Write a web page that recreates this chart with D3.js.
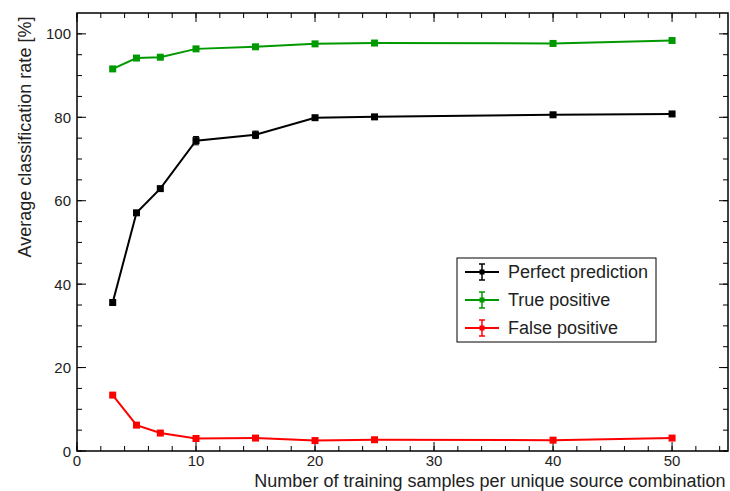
<!DOCTYPE html>
<html>
<head>
<meta charset="utf-8">
<script src="https://cdn.jsdelivr.net/npm/d3@7"></script>
<style>
  body { margin: 0; background: #fff; }
  text { font-family: "Liberation Sans", Arial, sans-serif; fill: #222; }
</style>
</head>
<body>
<div id="chart"></div>
<script>
// Training sample counts
const samples = [3, 5, 7, 10, 15, 20, 25, 40, 50];

// Average classification rates [%]
const perfect = [35.6, 57.1, 62.9, 74.4, 75.8, 79.9, 80.1, 80.6, 80.8];
const truePos = [91.6, 94.2, 94.4, 96.4, 96.9, 97.6, 97.8, 97.7, 98.4];
const falsePos = [13.4, 6.2, 4.3, 3.0, 3.1, 2.5, 2.7, 2.6, 3.1];

// Error bar half-widths
const perfectErr = [0.5, 0.5, 0.5, 1.0, 0.9, 0.4, 0.4, 0.4, 0.4];
const truePosErr = [0.3, 0.3, 0.3, 0.3, 0.3, 0.2, 0.2, 0.2, 0.2];
const falsePosErr = [0.3, 0.3, 0.3, 0.2, 0.2, 0.2, 0.2, 0.2, 0.2];

const seriesNames = ["Perfect prediction", "True positive", "False positive"];
const seriesColors = ["#000000", "#009900", "#ff0000"];

const xTicks = [0, 10, 20, 30, 40, 50];
const yTicks = [0, 20, 40, 60, 80, 100];

const width = 730;
const height = 491;
const margin = { top: 13, right: 1, bottom: 40, left: 77 };

const series = [
    { name: seriesNames[0], color: seriesColors[0], values: perfect, err: perfectErr },
    { name: seriesNames[1], color: seriesColors[1], values: truePos, err: truePosErr },
    { name: seriesNames[2], color: seriesColors[2], values: falsePos, err: falsePosErr }
];

const svg = d3.select("#chart")
    .append("svg")
    .attr("width", width)
    .attr("height", height);

const x = d3.scaleLinear().domain([0, 54.7]).range([margin.left, width - margin.right - 1]);
const y = d3.scaleLinear().domain([0, 105]).range([height - margin.bottom, margin.top]);

const x0 = x.range()[0], x1 = x.range()[1];
const y0 = y.range()[0], y1 = y.range()[1];

// ticks on all four sides, pointing inward
const xMinor = d3.range(0, 54.7, 2);
const yMinor = d3.range(0, 105, 5);

function tickGroup(vals, isX, len) {
    vals.forEach(v => {
        if (isX) {
            svg.append("line").attr("x1", x(v)).attr("x2", x(v)).attr("y1", y0).attr("y2", y0 - len)
                .attr("stroke", "#000").attr("stroke-width", 1);
            svg.append("line").attr("x1", x(v)).attr("x2", x(v)).attr("y1", y1).attr("y2", y1 + len)
                .attr("stroke", "#000").attr("stroke-width", 1);
        } else {
            svg.append("line").attr("y1", y(v)).attr("y2", y(v)).attr("x1", x0).attr("x2", x0 + len)
                .attr("stroke", "#000").attr("stroke-width", 1);
            svg.append("line").attr("y1", y(v)).attr("y2", y(v)).attr("x1", x1).attr("x2", x1 - len)
                .attr("stroke", "#000").attr("stroke-width", 1);
        }
    });
}
tickGroup(xMinor, true, 5);
tickGroup(xTicks, true, 9);
tickGroup(yMinor, false, 5);
tickGroup(yTicks, false, 9);

svg.append("rect")
    .attr("x", x0).attr("y", y1)
    .attr("width", x1 - x0).attr("height", y0 - y1)
    .attr("fill", "none").attr("stroke", "#000").attr("stroke-width", 1.5);

// tick labels
svg.selectAll(".xlab").data(xTicks).enter().append("text")
    .attr("x", d => x(d)).attr("y", y0 + 15)
    .attr("text-anchor", "middle").attr("font-size", "15px")
    .text(d => d);

svg.selectAll(".ylab").data(yTicks).enter().append("text")
    .attr("x", x0 - 6).attr("y", d => y(d) + 5.5)
    .attr("text-anchor", "end").attr("font-size", "15px")
    .text(d => d);

// axis titles
svg.append("text")
    .attr("x", 490).attr("y", 487)
    .attr("text-anchor", "middle").attr("font-size", "18px")
    .text("Number of training samples per unique source combination");

svg.append("text")
    .attr("transform", "translate(31,137) rotate(-90)")
    .attr("text-anchor", "middle").attr("font-size", "18px")
    .text("Average classification rate [%]");

const line = d3.line().x((d, i) => x(samples[i])).y(d => y(d));

series.forEach(s => {
    const g = svg.append("g");
    g.append("path")
        .attr("d", line(s.values))
        .attr("fill", "none").attr("stroke", s.color).attr("stroke-width", 2);
    s.values.forEach((v, i) => {
        const cx = x(samples[i]);
        g.append("line").attr("x1", cx).attr("x2", cx)
            .attr("y1", y(v - s.err[i])).attr("y2", y(v + s.err[i]))
            .attr("stroke", s.color).attr("stroke-width", 1.5);
        g.append("line").attr("x1", cx - 3).attr("x2", cx + 3)
            .attr("y1", y(v + s.err[i])).attr("y2", y(v + s.err[i]))
            .attr("stroke", s.color).attr("stroke-width", 1);
        g.append("line").attr("x1", cx - 3).attr("x2", cx + 3)
            .attr("y1", y(v - s.err[i])).attr("y2", y(v - s.err[i]))
            .attr("stroke", s.color).attr("stroke-width", 1);
        g.append("rect")
            .attr("x", cx - 3.5).attr("y", y(v) - 3.5)
            .attr("width", 7).attr("height", 7)
            .attr("fill", s.color);
    });
});

// legend
const legend = svg.append("g").attr("transform", "translate(457,258)");
legend.append("rect")
    .attr("width", 199).attr("height", 84)
    .attr("fill", "#fff").attr("stroke", "#000").attr("stroke-width", 1);

series.forEach((s, i) => {
    const ly = 14 + i * 28;
    legend.append("line").attr("x1", 8).attr("x2", 42).attr("y1", ly).attr("y2", ly)
        .attr("stroke", s.color).attr("stroke-width", 2);
    legend.append("line").attr("x1", 25).attr("x2", 25).attr("y1", ly - 8).attr("y2", ly + 8)
        .attr("stroke", s.color).attr("stroke-width", 1.5);
    legend.append("line").attr("x1", 22).attr("x2", 28).attr("y1", ly - 8).attr("y2", ly - 8)
        .attr("stroke", s.color).attr("stroke-width", 1.5);
    legend.append("line").attr("x1", 22).attr("x2", 28).attr("y1", ly + 8).attr("y2", ly + 8)
        .attr("stroke", s.color).attr("stroke-width", 1.5);
    legend.append("rect").attr("x", 22.5).attr("y", ly - 2.5).attr("width", 5).attr("height", 5)
        .attr("fill", s.color);
    legend.append("text")
        .attr("x", 51).attr("y", ly + 6)
        .attr("font-size", "18px")
        .text(s.name);
});
</script>
</body>
</html>
